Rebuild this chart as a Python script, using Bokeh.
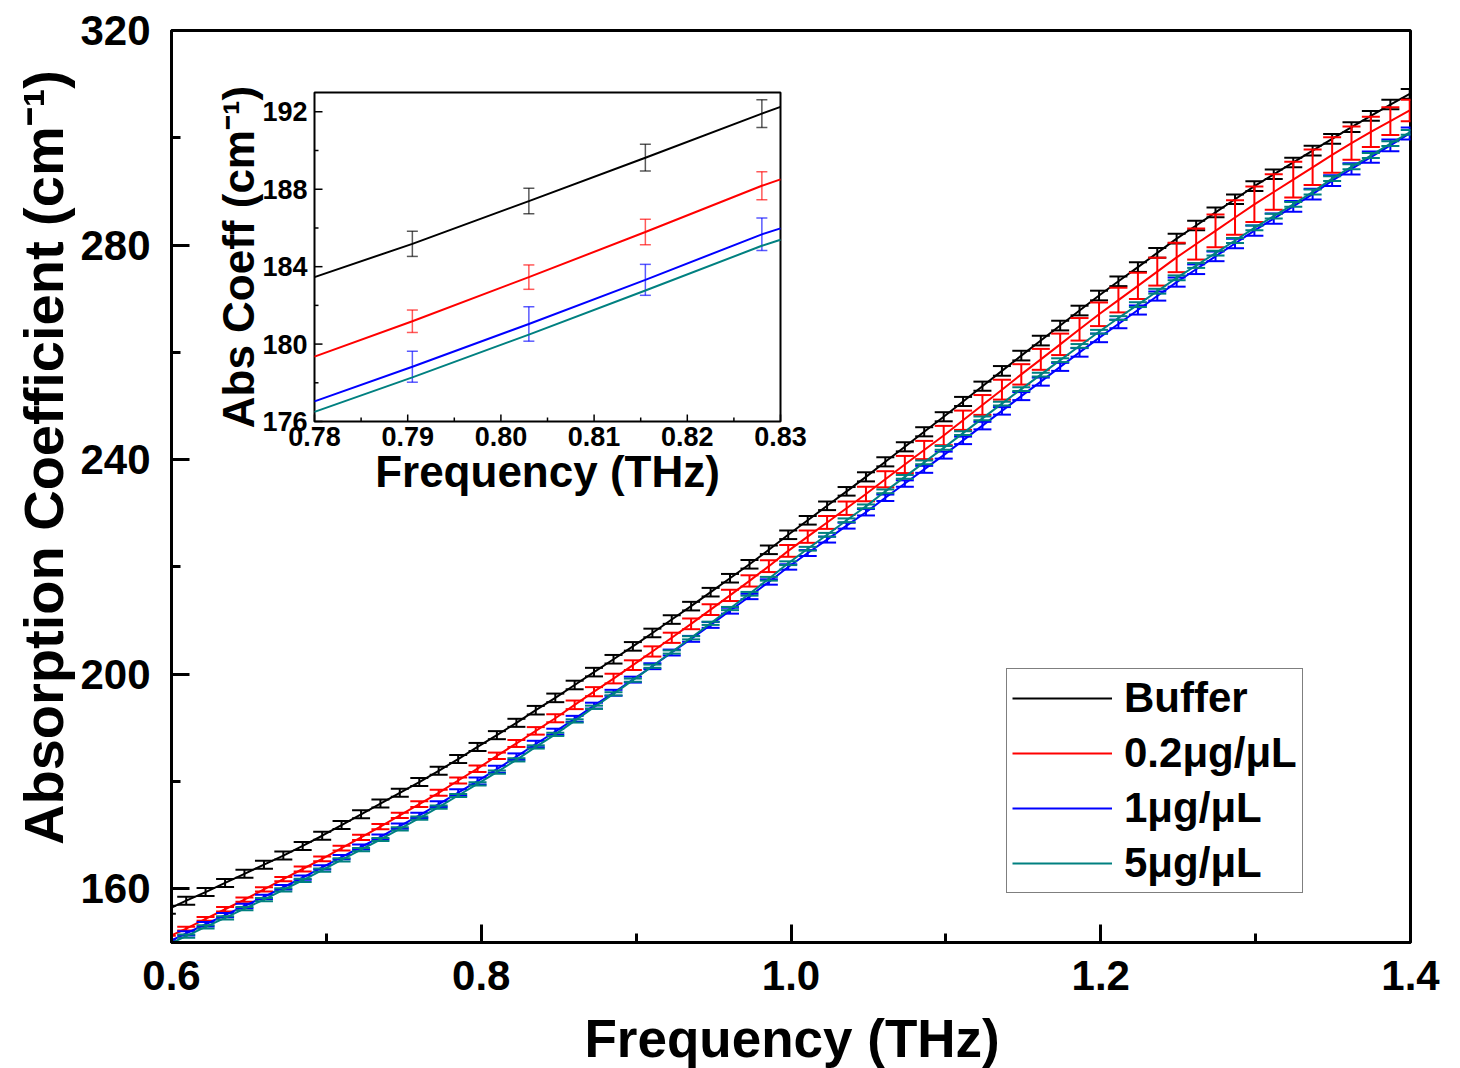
import math
from bokeh.plotting import figure
from bokeh.layouts import row, column
from bokeh.models import Range1d, FixedTicker, PrintfTickFormatter, Legend, LegendItem
from bokeh.core.properties import value
from bokeh.embed import file_html
from bokeh.resources import INLINE

# ---------------- main data ----------------
freq = [0.5970, 0.6095, 0.6220, 0.6346, 0.6471, 0.6597, 0.6722, 0.6847, 0.6973, 0.7098,
        0.7224, 0.7349, 0.7474, 0.7600, 0.7725, 0.7851, 0.7976, 0.8101, 0.8227, 0.8352,
        0.8478, 0.8603, 0.8728, 0.8854, 0.8979, 0.9105, 0.9230, 0.9355, 0.9481, 0.9606,
        0.9732, 0.9857, 0.9982, 1.0108, 1.0233, 1.0359, 1.0484, 1.0609, 1.0735, 1.0860,
        1.0986, 1.1111, 1.1236, 1.1362, 1.1487, 1.1613, 1.1738, 1.1863, 1.1989, 1.2114,
        1.2240, 1.2365, 1.2490, 1.2616, 1.2741, 1.2867, 1.2992, 1.3117, 1.3243, 1.3368,
        1.3494, 1.3619, 1.3744, 1.3870, 1.3995]

buffer = [156.1, 157.8, 159.4, 161.1, 162.8, 164.5, 166.2, 168.0, 169.9, 171.9,
          173.9, 175.9, 177.9, 179.9, 182.0, 184.2, 186.45, 188.65, 190.95, 193.3,
          195.6, 198.0, 200.4, 202.8, 205.2, 207.7, 210.2, 212.7, 215.3, 217.9,
          220.5, 223.2, 226.0, 228.7, 231.4, 234.1, 236.8, 239.6, 242.4, 245.2,
          248.0, 250.85, 253.7, 256.55, 259.4, 262.2, 265.0, 267.8, 270.6, 273.25,
          275.9, 278.55, 281.2, 283.65, 286.1, 288.55, 291.0, 293.2, 295.4, 297.6,
          299.8, 302.0, 304.1, 306.2, 308.2]

c02 = [150.9, 152.6, 154.4, 156.2, 158.0, 159.9, 161.8, 163.7, 165.6, 167.6,
       169.6, 171.6, 173.7, 175.8, 177.9, 180.2, 182.4, 184.8, 187.1, 189.45,
       191.8, 194.3, 196.75, 199.2, 201.7, 204.25, 206.8, 209.4, 212.05, 214.7,
       217.4, 220.15, 223.0, 225.65, 228.3, 230.95, 233.6, 236.35, 239.1, 241.8,
       244.5, 247.35, 250.2, 253.05, 255.9, 258.7, 261.5, 264.3, 267.1, 269.75,
       272.4, 275.05, 277.7, 280.2, 282.65, 285.15, 287.6, 289.9, 292.2, 294.5,
       296.8, 299.0, 301.1, 303.1, 305.1]

c1 = [150.0, 151.7, 153.4, 155.1, 156.8, 158.5, 160.3, 162.1, 164.0, 165.9,
      167.8, 169.7, 171.7, 173.7, 175.8, 177.95, 180.1, 182.3, 184.65, 187.0,
      189.3, 191.7, 194.15, 196.55, 199.0, 201.5, 204.05, 206.6, 209.2, 211.85,
      214.5, 217.2, 220.0, 222.6, 225.1, 227.7, 230.2, 232.9, 235.55, 238.2,
      240.85, 243.6, 246.35, 249.1, 251.85, 254.55, 257.3, 260.0, 262.7, 265.3,
      267.9, 270.5, 273.1, 275.5, 277.9, 280.3, 282.7, 284.95, 287.2, 289.5,
      292.0, 294.2, 296.4, 298.6, 300.8]

c5 = [149.5, 151.2, 152.9, 154.6, 156.3, 158.0, 159.8, 161.6, 163.5, 165.4,
      167.3, 169.2, 171.2, 173.2, 175.25, 177.4, 179.55, 181.75, 184.05, 186.45,
      188.8, 191.3, 193.85, 196.35, 198.9, 201.5, 204.15, 206.8, 209.5, 212.25,
      215.0, 217.8, 220.7, 223.4, 226.0, 228.7, 231.3, 234.1, 236.8, 239.5,
      242.2, 244.95, 247.7, 250.45, 253.15, 255.85, 258.55, 261.2, 263.85, 266.4,
      268.9, 271.4, 273.9, 276.2, 278.5, 280.85, 283.2, 285.4, 287.6, 289.9,
      292.4, 294.6, 296.7, 298.9, 301.0]

buffer_err = [0.75, 0.75, 0.75, 0.75, 0.75, 0.75, 0.75, 0.75, 0.75, 0.75,
              0.75, 0.75, 0.75, 0.75, 0.75, 0.75, 0.75, 0.75, 0.75, 0.8,
              0.8, 0.8, 0.8, 0.8, 0.8, 0.8, 0.8, 0.8, 0.8, 0.8,
              0.8, 0.8, 0.8, 0.8, 0.8, 0.8, 0.85, 0.85, 0.85, 0.85,
              0.85, 0.85, 0.85, 0.9, 0.9, 0.9, 0.9, 0.9, 0.9, 0.9,
              0.9, 0.9, 0.9, 0.9, 0.9, 0.9, 0.9, 0.9, 0.9, 0.9,
              0.9, 0.9, 0.9, 0.9, 0.9]

c02_err = [0.35, 0.35, 0.35, 0.4, 0.4, 0.4, 0.4, 0.45, 0.45, 0.45,
           0.5, 0.5, 0.5, 0.55, 0.55, 0.55, 0.6, 0.6, 0.65, 0.7,
           0.75, 0.8, 0.85, 0.9, 0.9, 0.95, 0.95, 1.0, 1.0, 1.05,
           1.05, 1.1, 1.1, 1.15, 1.2, 1.25, 1.35, 1.5, 1.6, 1.7,
           1.8, 1.8, 1.85, 1.85, 1.9, 1.95, 2.0, 2.1, 2.2, 2.3,
           2.45, 2.6, 2.75, 2.9, 3.05, 3.2, 3.3, 3.3, 3.35, 3.3,
           3.3, 3.1, 2.8, 2.6, 2.0]

c1_err = [0.4, 0.4, 0.4, 0.4, 0.4, 0.4, 0.4, 0.4, 0.4, 0.4,
          0.45, 0.45, 0.5, 0.5, 0.55, 0.6, 0.65, 0.65, 0.6, 0.6,
          0.55, 0.55, 0.55, 0.55, 0.55, 0.55, 0.55, 0.55, 0.55, 0.55,
          0.5, 0.5, 0.5, 0.55, 0.55, 0.55, 0.6, 0.6, 0.6, 0.65,
          0.65, 0.7, 0.7, 0.7, 0.75, 0.75, 0.75, 0.8, 0.8, 0.8,
          0.85, 0.85, 0.85, 0.9, 0.9, 0.9, 0.95, 0.95, 1.0, 1.0,
          1.0, 1.05, 1.05, 1.1, 1.1]

c5_err = [0.3, 0.3, 0.3, 0.3, 0.3, 0.3, 0.3, 0.3, 0.3, 0.3,
          0.3, 0.3, 0.3, 0.3, 0.3, 0.3, 0.3, 0.3, 0.3, 0.3,
          0.3, 0.3, 0.3, 0.3, 0.3, 0.3, 0.3, 0.3, 0.3, 0.3,
          0.35, 0.35, 0.35, 0.35, 0.35, 0.35, 0.35, 0.35, 0.35, 0.35,
          0.35, 0.35, 0.35, 0.35, 0.35, 0.35, 0.35, 0.35, 0.35, 0.35,
          0.45, 0.45, 0.45, 0.45, 0.45, 0.45, 0.45, 0.45, 0.45, 0.45,
          0.45, 0.45, 0.45, 0.45, 0.45]

series_names = ["Buffer", "0.2μg/μL", "1μg/μL", "5μg/μL"]
series_colors = ["black", "#FF0000", "#0000FF", "#008080"]

x_ticks = [0.6, 0.8, 1.0, 1.2, 1.4]
x_minor = [0.7, 0.9, 1.1, 1.3]
y_ticks = [160, 200, 240, 280, 320]
y_minor = [180, 220, 260, 300]
x_title = "Frequency (THz)"
y_title = "Absorption Coefficient (cm⁻¹)"

# ---------------- inset data ----------------
inset_freq = [0.78, 0.7905, 0.8030, 0.8155, 0.8280, 0.83]
inset_buffer = [183.46, 185.18, 187.39, 189.63, 191.91, 192.26]
inset_c02 = [179.35, 181.18, 183.46, 185.79, 188.18, 188.51]
inset_c1 = [177.04, 178.83, 181.04, 183.32, 185.67, 185.98]
inset_c5 = [176.50, 178.28, 180.49, 182.77, 185.08, 185.39]
inset_buffer_err = [0.65, 0.66, 0.69, 0.72]
inset_c02_err = [0.58, 0.63, 0.66, 0.72]
inset_c1_err = [0.80, 0.89, 0.80, 0.84]

inset_x_ticks = [0.78, 0.79, 0.80, 0.81, 0.82, 0.83]
inset_x_labels = ["0.78", "0.79", "0.80", "0.81", "0.82", "0.83"]
inset_x_minor = [0.785, 0.795, 0.805, 0.815, 0.825]
inset_y_ticks = [176, 180, 184, 188, 192]
inset_y_labels = ["176", "180", "184", "188", "192"]
inset_y_minor = [178, 182, 186, 190]
inset_x_title = "Frequency (THz)"
inset_y_title = "Abs Coeff (cm⁻¹)"

FONT = "Liberation Sans"

# ---------------- page geometry (canvas pixels) ----------------
W, H = 1460, 1068
LW = 76            # width of the strip that carries the y title
MAIN_H = 1008      # height of the main figure; below it a strip carries the x title
FL, FR, FT, FB = 171, 1410, 30, 942
X0, X1, Y0, Y1 = 0.6, 1.4, 150.0, 320.0

# ---------------- main figure ----------------
p = figure(width=W - LW, height=MAIN_H, x_range=Range1d(X0, X1), y_range=Range1d(Y0, Y1),
           output_backend="svg", toolbar_location=None,
           min_border_left=FL - LW, min_border_right=W - FR, min_border_top=FT,
           min_border_bottom=MAIN_H - FB)
p.grid.visible = False
p.outline_line_color = "black"
p.outline_line_width = 3
p.background_fill_color = "white"
p.border_fill_color = "white"

p.xaxis.ticker = FixedTicker(ticks=x_ticks, minor_ticks=x_minor)
p.yaxis.ticker = FixedTicker(ticks=y_ticks, minor_ticks=y_minor)
p.xaxis.formatter = PrintfTickFormatter(format="%.1f")
p.yaxis.formatter = PrintfTickFormatter(format="%d")
for ax in (p.xaxis, p.yaxis):
    ax.axis_line_width = 3
    ax.axis_line_color = "black"
    ax.major_tick_line_width = 3
    ax.minor_tick_line_width = 3
    ax.major_tick_in = 18
    ax.major_tick_out = 0
    ax.minor_tick_in = 9
    ax.minor_tick_out = 0
    ax.major_label_text_font = FONT
    ax.major_label_text_font_style = "bold"
    ax.major_label_text_font_size = "42px"
    ax.major_label_text_color = "black"
p.xaxis.major_label_standoff = 18
p.yaxis.major_label_standoff = 21

main_vals = [buffer, c02, c1, c5]
main_errs = [buffer_err, c02_err, c1_err, c5_err]
legend_items = []
for name, vals, errs, col in zip(series_names, main_vals, main_errs, series_colors):
    lo = [v - e for v, e in zip(vals, errs)]
    hi = [v + e for v, e in zip(vals, errs)]
    r = p.line(freq, vals, line_color=col, line_width=2)
    p.segment(x0=freq, y0=lo, x1=freq, y1=hi, line_color=col, line_width=2)
    p.scatter(freq, lo, marker="dash", size=18, line_color=col, line_width=2)
    p.scatter(freq, hi, marker="dash", size=18, line_color=col, line_width=2)
    legend_items.append(LegendItem(label=name, renderers=[r]))

legend = Legend(items=legend_items, location=(835, 49),
                label_text_font=FONT, label_text_font_style="bold",
                label_text_font_size="42px", label_text_color="black",
                glyph_width=100, glyph_height=48, label_height=48,
                label_standoff=12, spacing=7, padding=5, margin=0,
                border_line_color="black", border_line_width=1.5,
                background_fill_color="white", background_fill_alpha=1.0)
p.add_layout(legend)

# ---------------- inset (own ranges mapped onto a sub-rectangle of the frame) ----------------
IL, IR, IT, IB = 314, 780, 92, 421
ix0, ix1 = 0.78, 0.83
iy0, iy1 = 176.0, 193.0
sx = (IR - IL) / (ix1 - ix0)
sy = (IB - IT) / (iy1 - iy0)
p.extra_x_ranges = {"ix": Range1d(ix0 - (IL - FL) / sx, ix1 + (FR - IR) / sx)}
p.extra_y_ranges = {"iy": Range1d(iy0 - (FB - IB) / sy, iy1 + (IT - FT) / sy)}
kw = dict(x_range_name="ix", y_range_name="iy")

p.quad(left=[ix0], right=[ix1], bottom=[iy0], top=[iy1], fill_color="white",
       line_color="black", line_width=2, **kw)

inset_vals = [inset_buffer, inset_c02, inset_c1, inset_c5]
inset_errs = [inset_buffer_err, inset_c02_err, inset_c1_err, None]
for vals, errs, col in zip(inset_vals, inset_errs, series_colors):
    p.line(inset_freq, vals, line_color=col, line_width=2, **kw)
    if errs is None:
        continue
    fx = inset_freq[1:5]
    fv = vals[1:5]
    lo = [v - e for v, e in zip(fv, errs)]
    hi = [v + e for v, e in zip(fv, errs)]
    p.segment(x0=fx, y0=lo, x1=fx, y1=hi, line_color=col, line_width=1.5, line_alpha=0.65, **kw)
    p.scatter(fx, lo, marker="dash", size=11, line_color=col, line_width=1.5, line_alpha=0.65, **kw)
    p.scatter(fx, hi, marker="dash", size=11, line_color=col, line_width=1.5, line_alpha=0.65, **kw)

maj_y = 7 / sy
min_y = 4 / sy
maj_x = 8 / sx
min_x = 4 / sx
p.segment(x0=inset_x_ticks, y0=[iy0] * len(inset_x_ticks), x1=inset_x_ticks,
          y1=[iy0 + maj_y] * len(inset_x_ticks), line_color="black", line_width=1.5, **kw)
p.segment(x0=inset_x_minor, y0=[iy0] * len(inset_x_minor), x1=inset_x_minor,
          y1=[iy0 + min_y] * len(inset_x_minor), line_color="black", line_width=1.5, **kw)
p.segment(x0=[ix0] * len(inset_y_ticks), y0=inset_y_ticks, x1=[ix0 + maj_x] * len(inset_y_ticks),
          y1=inset_y_ticks, line_color="black", line_width=1.5, **kw)
p.segment(x0=[ix0] * len(inset_y_minor), y0=inset_y_minor, x1=[ix0 + min_x] * len(inset_y_minor),
          y1=inset_y_minor, line_color="black", line_width=1.5, **kw)

p.text(x=inset_x_ticks, y=[iy0 - 5 / sy] * len(inset_x_ticks), text=inset_x_labels,
       text_align="center", text_baseline="top", text_font=value(FONT),
       text_font_style="bold", text_font_size="27px", text_color="black", **kw)
p.text(x=[ix0 - 7 / sx] * len(inset_y_ticks), y=inset_y_ticks, text=inset_y_labels,
       text_align="right", text_baseline="middle", text_font=value(FONT),
       text_font_style="bold", text_font_size="27px", text_color="black", **kw)
p.text(x=[(ix0 + ix1) / 2], y=[iy0 - 25 / sy], text=[inset_x_title],
       text_align="center", text_baseline="top", text_font=value(FONT),
       text_font_style="bold", text_font_size="44px", text_color="black", **kw)
p.text(x=[ix0 - (IL - 238) / sx], y=[(iy0 + iy1) / 2], text=[inset_y_title],
       angle=math.pi / 2, text_align="center", text_baseline="middle", text_font=value(FONT),
       text_font_style="bold", text_font_size="44px", text_color="black", **kw)


def strip(width, height, x_from, x_to, y_from, y_to, bl=0, br=0):
    """A bare figure whose frame data coordinates equal page pixels (y grows downward)."""
    f = figure(width=width, height=height, x_range=Range1d(x_from, x_to),
               y_range=Range1d(y_to, y_from), output_backend="svg", toolbar_location=None,
               x_axis_location=None, y_axis_location=None,
               min_border_left=bl, min_border_right=br, min_border_top=0, min_border_bottom=0)
    f.grid.visible = False
    f.outline_line_color = None
    f.background_fill_color = "white"
    f.border_fill_color = "white"
    return f


# y title strip (page x 0..LW, y 0..H)
left = strip(LW, H, 0, LW, 0, H)
left.text(x=[43], y=[457], text=[y_title], angle=math.pi / 2, text_align="center",
          text_baseline="middle", text_font=value(FONT), text_font_style="bold",
          text_font_size="56px", text_color="black")

# x title strip below the main figure; its frame is aligned with the main frame (FL..FR)
bottom = strip(W - LW, H - MAIN_H, FL, FR, MAIN_H, H, bl=FL - LW, br=W - FR)
bottom.text(x=[584], y=[1008.5], text=[x_title], text_align="left",
            text_baseline="top", text_font=value(FONT), text_font_style="bold",
            text_font_size="53px", text_color="black")

page = row(left, column(p, bottom, spacing=0), spacing=0)

open("out.html", "w").write(file_html(page, INLINE))
